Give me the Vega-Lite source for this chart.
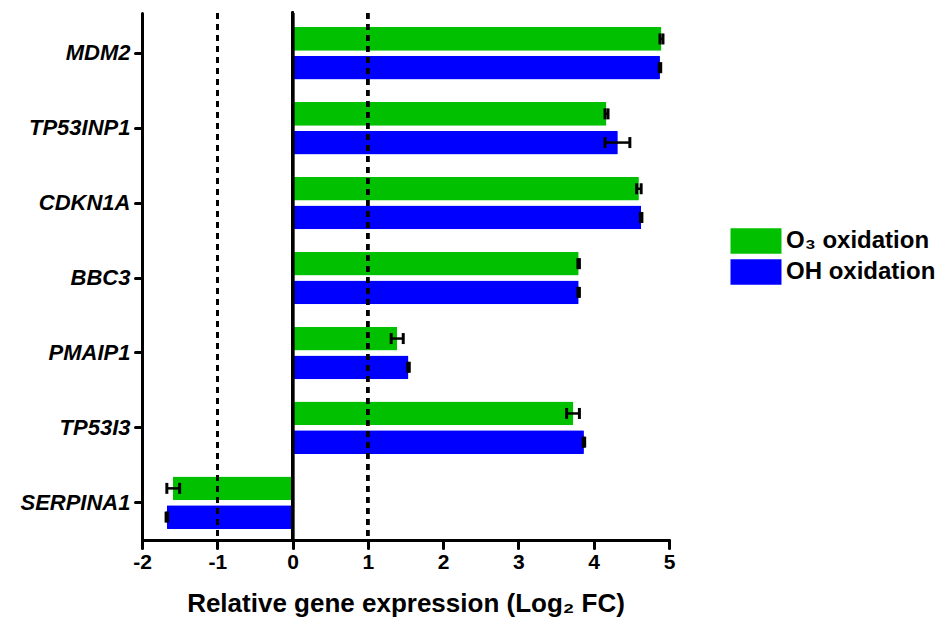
{
  "$schema": "https://vega.github.io/schema/vega-lite/v6.json",
  "autosize": "none",
  "padding": {"left": 142, "top": 13, "right": 277, "bottom": 88},
  "width": 527,
  "height": 527,
  "background": "white",
  "config": {
    "view": {"stroke": null},
    "font": "Liberation Sans",
    "axis": {
      "grid": false,
      "domainColor": "black",
      "domainWidth": 3,
      "domainCap": "round",
      "tickColor": "black",
      "tickWidth": 3,
      "tickCap": "round",
      "labelColor": "black",
      "labelFont": "Liberation Sans",
      "labelFontWeight": "bold",
      "titleFont": "Liberation Sans",
      "titleFontWeight": "bold",
      "titleColor": "black"
    }
  },
  "data": {
    "values": [
      {"gene": "MDM2", "group": "O₃ oxidation", "value": 4.90, "lo": 4.88, "hi": 4.92},
      {"gene": "MDM2", "group": "OH oxidation", "value": 4.88, "lo": 4.87, "hi": 4.89},
      {"gene": "TP53INP1", "group": "O₃ oxidation", "value": 4.17, "lo": 4.15, "hi": 4.19},
      {"gene": "TP53INP1", "group": "OH oxidation", "value": 4.32, "lo": 4.15, "hi": 4.48},
      {"gene": "CDKN1A", "group": "O₃ oxidation", "value": 4.60, "lo": 4.57, "hi": 4.63},
      {"gene": "CDKN1A", "group": "OH oxidation", "value": 4.63, "lo": 4.62, "hi": 4.64},
      {"gene": "BBC3", "group": "O₃ oxidation", "value": 3.80, "lo": 3.79, "hi": 3.81},
      {"gene": "BBC3", "group": "OH oxidation", "value": 3.80, "lo": 3.79, "hi": 3.81},
      {"gene": "PMAIP1", "group": "O₃ oxidation", "value": 1.39, "lo": 1.31, "hi": 1.47},
      {"gene": "PMAIP1", "group": "OH oxidation", "value": 1.54, "lo": 1.53, "hi": 1.55},
      {"gene": "TP53I3", "group": "O₃ oxidation", "value": 3.73, "lo": 3.64, "hi": 3.81},
      {"gene": "TP53I3", "group": "OH oxidation", "value": 3.87, "lo": 3.86, "hi": 3.88},
      {"gene": "SERPINA1", "group": "O₃ oxidation", "value": -1.59, "lo": -1.67, "hi": -1.50},
      {"gene": "SERPINA1", "group": "OH oxidation", "value": -1.67, "lo": -1.68, "hi": -1.66}
    ]
  },
  "encoding": {
    "y": {
      "field": "gene",
      "type": "nominal",
      "sort": ["MDM2", "TP53INP1", "CDKN1A", "BBC3", "PMAIP1", "TP53I3", "SERPINA1"],
      "scale": {"paddingInner": 0.3, "paddingOuter": 0.168, "align": 0.56},
      "axis": {
        "title": null,
        "tickSize": 7,
        "labelPadding": 5,
        "labelFontSize": 22,
        "labelFontStyle": "italic"
      }
    },
    "yOffset": {
      "field": "group",
      "type": "nominal",
      "sort": ["O₃ oxidation", "OH oxidation"],
      "scale": {"paddingInner": 0.174, "paddingOuter": 0}
    }
  },
  "layer": [
    {
      "mark": {"type": "bar", "cornerRadius": 1},
      "encoding": {
        "x": {
          "field": "value",
          "type": "quantitative",
          "scale": {"domain": [-2, 5], "nice": false, "zero": false},
          "axis": {
            "values": [-2, -1, 0, 1, 2, 3, 4, 5],
            "labelExpr": "'' + datum.value",
            "labelFlush": false,
            "tickSize": 8,
            "labelPadding": 3,
            "labelFontSize": 21,
            "title": "Relative gene expression (Log₂ FC)",
            "titleFontSize": 26,
            "titlePadding": 18
          }
        },
        "color": {
          "field": "group",
          "type": "nominal",
          "sort": ["O₃ oxidation", "OH oxidation"],
          "scale": {"domain": ["O₃ oxidation", "OH oxidation"], "range": ["#00C000", "#0000FF"]},
          "legend": {
            "title": null,
            "orient": "none",
            "legendX": 601,
            "legendY": 215,
            "symbolType": "M-2,-1H2V1H-2Z",
            "symbolSize": 650,
            "symbolStrokeWidth": 0,
            "symbolOpacity": 1,
            "labelFont": "Liberation Sans",
            "labelFontWeight": "bold",
            "labelFontSize": 24,
            "labelColor": "black",
            "labelOffset": 17,
            "rowPadding": 5
          }
        }
      }
    },
    {
      "mark": {"type": "rule", "color": "black", "strokeWidth": 2.5, "strokeDash": [6, 5]},
      "encoding": {"x": {"datum": -1}, "y": null, "yOffset": null}
    },
    {
      "mark": {"type": "rule", "color": "black", "strokeWidth": 2.5, "strokeDash": [6, 5]},
      "encoding": {"x": {"datum": 1}, "y": null, "yOffset": null}
    },
    {
      "mark": {"type": "rule", "color": "black", "strokeWidth": 3, "strokeCap": "round"},
      "encoding": {"x": {"datum": 0}, "y": null, "yOffset": null}
    },
    {
      "mark": {"type": "rule", "color": "black", "strokeWidth": 2.5, "opacity": 1},
      "encoding": {
        "x": {"field": "lo", "type": "quantitative"},
        "x2": {"field": "hi"}
      }
    },
    {
      "mark": {"type": "tick", "color": "black", "thickness": 3, "size": 11, "opacity": 1},
      "encoding": {"x": {"field": "lo", "type": "quantitative"}}
    },
    {
      "mark": {"type": "tick", "color": "black", "thickness": 3, "size": 11, "opacity": 1},
      "encoding": {"x": {"field": "hi", "type": "quantitative"}}
    }
  ]
}
